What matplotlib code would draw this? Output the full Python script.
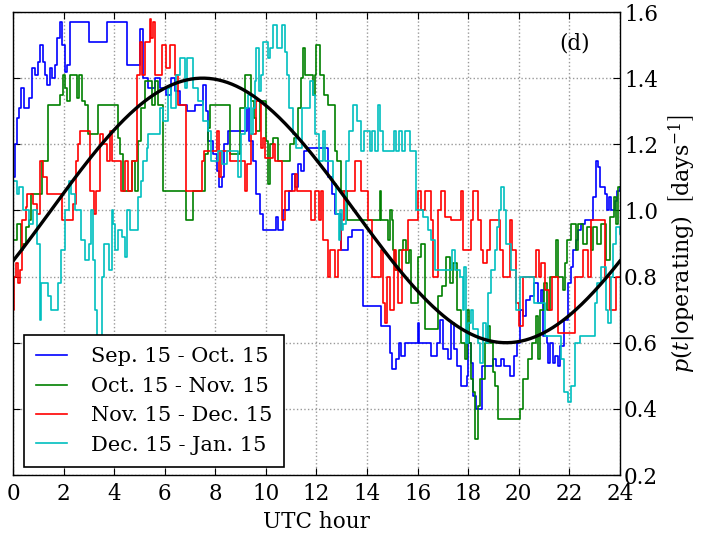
import numpy as np
import matplotlib
matplotlib.use("Agg")
import matplotlib.pyplot as plt

plt.rcParams["font.family"] = ["DejaVu Serif"]
plt.rcParams["mathtext.fontset"] = "dejavuserif"

# Step series: (UTC hour where the step starts, probability density)
sep_hours = [0.00, 0.08, 0.16, 0.25, 0.33, 0.45, 0.62, 0.75, 0.88, 0.98, 1.07, 1.17, 1.27, 1.35, 1.45, 1.55,
             1.65, 1.75, 1.85, 1.95, 2.05, 2.15, 2.27, 3.02, 3.70, 4.49, 5.02, 5.15, 5.35, 5.60, 5.80, 6.05,
             6.25, 6.40, 6.60, 6.90, 7.20, 7.50, 7.62, 7.72, 7.90, 8.05, 8.15, 8.25, 8.35, 8.50, 9.25, 9.35,
             9.50, 9.62, 9.75, 9.88, 10.40, 10.48, 10.68, 10.90, 11.05, 11.15, 11.27, 11.40, 11.50, 11.62,
             12.45, 12.60, 12.73, 12.99, 13.25, 13.40, 13.85, 14.57, 14.90, 15.00, 15.15, 15.25, 15.35,
             15.50, 16.00, 16.06, 16.55, 16.75, 16.90, 17.00, 17.20, 17.33, 17.45, 17.55, 17.72, 17.95,
             18.00, 18.12, 18.20, 18.30, 18.55, 18.66, 19.00, 19.10, 19.30, 19.40, 19.64, 19.80, 19.95,
             20.05, 20.15, 20.30, 20.45, 20.60, 20.75, 20.90, 20.96, 21.10, 21.16, 21.25, 21.35, 21.45,
             21.55, 21.65, 21.80, 21.95, 22.08, 22.15, 22.27, 22.34, 22.45, 22.61, 22.95, 23.06, 23.13,
             23.20, 23.40, 23.50, 23.58, 23.66, 23.80, 23.88, 24.00]
sep_vals = [1.10, 1.20, 1.28, 1.31, 1.37, 1.31, 1.34, 1.43, 1.41, 1.45, 1.50, 1.45, 1.41, 1.38, 1.43, 1.40,
            1.44, 1.52, 1.57, 1.50, 1.42, 1.44, 1.57, 1.51, 1.57, 1.44, 1.55, 1.40, 1.37, 1.40, 1.37, 1.35,
            1.40, 1.36, 1.32, 1.30, 1.32, 1.38, 1.30, 1.21, 1.17, 1.12, 1.07, 1.10, 1.20, 1.24, 1.31, 1.21,
            1.15, 1.05, 0.99, 0.94, 0.98, 0.94, 1.00, 1.06, 1.11, 1.07, 1.14, 1.12, 1.18, 1.19,
            1.10, 1.05, 0.99, 0.88, 0.92, 0.94, 0.71, 0.65, 0.57, 0.52, 0.55, 0.60, 0.56,
            0.60, 0.66, 0.60, 0.56, 0.60, 0.67, 0.58, 0.55, 0.66, 0.58, 0.53, 0.47, 0.50,
            0.60, 0.54, 0.44, 0.40, 0.53, 0.53, 0.55, 0.53, 0.55, 0.53, 0.50, 0.56, 0.60,
            0.70, 0.68, 0.73, 0.74, 0.78, 0.72, 0.76, 0.62, 0.60, 0.54, 0.60, 0.54, 0.56,
            0.53, 0.59, 0.67, 0.78, 0.83, 0.88, 0.91, 0.94, 0.96, 0.97, 1.04, 1.15, 1.13,
            1.07, 1.05, 1.00, 1.04, 1.00, 1.03, 1.06, 1.07]

oct_hours = [0.00, 0.15, 0.30, 0.40, 0.50, 0.62, 0.70, 1.13, 1.40, 1.86, 1.99, 2.07, 2.15, 2.25, 2.55, 2.62,
             2.71, 2.85, 2.98, 3.37, 4.16, 4.24, 4.36, 4.69, 4.82, 4.95, 5.05, 5.22, 5.48, 5.62, 5.75, 5.94,
             6.86, 7.13, 7.59, 7.70, 7.79, 8.58, 8.85, 8.97, 9.17, 9.43, 9.55, 9.63, 9.76, 10.00, 10.09,
             10.16, 10.30, 10.48, 10.95, 11.13, 11.27, 11.40, 11.47, 11.55, 11.74, 11.87, 11.94, 12.00,
             12.13, 12.30, 12.46, 12.73, 12.80, 12.99, 13.19, 14.50, 14.57, 14.83, 14.90, 14.98, 15.04,
             15.12, 15.25, 15.42, 15.55, 15.68, 15.75, 16.02, 16.15, 16.28, 16.81, 16.95, 17.14, 17.27,
             17.40, 17.54, 17.73, 17.88, 17.95, 18.05, 18.12, 18.20, 18.28, 18.40, 18.46, 18.65, 18.79,
             18.85, 18.99, 19.05, 19.18, 20.04, 20.15, 20.37, 20.52, 20.70, 20.78, 20.83, 21.00, 21.10,
             21.22, 21.49, 21.55, 21.75, 21.85, 21.92, 22.05, 22.25, 22.34, 22.55, 22.70, 22.85, 22.95,
             23.10, 23.27, 23.47, 23.60, 23.75, 23.85, 23.93, 24.00]
oct_vals = [0.91, 0.96, 0.88, 0.90, 0.95, 0.97, 1.05, 1.15, 1.32, 1.35, 1.41, 1.37, 1.33, 1.41, 1.34, 1.41,
            1.33, 1.32, 1.23, 1.32, 1.22, 1.17, 1.06, 1.15, 1.06, 1.21, 1.31, 1.39, 1.32, 1.39, 1.32, 1.06,
            0.97, 1.06, 1.17, 1.25, 1.32, 1.17, 1.17, 1.31, 1.41, 1.33, 1.28, 1.24, 1.33, 1.21, 1.08,
            1.20, 1.22, 1.15, 1.20, 1.22, 1.31, 1.40, 1.49, 1.41, 1.41, 1.35, 1.41, 1.50,
            1.41, 1.35, 1.32, 1.18, 1.15, 1.06, 0.97, 1.06, 0.97, 0.91, 1.00, 0.97, 0.88,
            0.82, 0.88, 0.91, 0.84, 0.88, 0.72, 0.86, 0.90, 0.64, 0.74, 0.77, 0.86, 0.78,
            0.84, 0.70, 0.60, 0.55, 0.70, 0.60, 0.49, 0.45, 0.31, 0.41, 0.49, 0.60, 0.65,
            0.60, 0.51, 0.47, 0.37, 0.40, 0.49, 0.55, 0.60, 0.68, 0.55, 0.70, 0.78, 0.70,
            0.80, 0.91, 0.80, 0.76, 0.84, 0.91, 0.96, 0.88, 0.96, 0.90, 0.95, 0.88, 0.95,
            0.90, 0.96, 0.85, 0.98, 1.04, 0.96, 1.07, 1.07]

nov_hours = [0.00, 0.05, 0.12, 0.20, 0.28, 0.34, 0.50, 0.55, 0.80, 0.93, 1.08, 1.20, 1.33, 1.93, 2.39, 2.50,
             2.58, 2.65, 3.04, 3.22, 3.30, 3.44, 3.56, 3.70, 3.84, 3.90, 4.29, 4.43, 4.56, 4.69, 4.89, 5.02,
             5.12, 5.22, 5.40, 5.47, 5.53, 5.61, 5.88, 6.05, 6.20, 6.40, 6.53, 6.86, 7.46, 7.55, 8.05, 8.15,
             8.22, 8.60, 9.17, 9.25, 9.43, 9.63, 9.80, 9.87, 9.95, 10.30, 10.38, 10.62, 10.75, 11.14, 11.22,
             11.80, 11.94, 12.10, 12.20, 12.27, 12.46, 12.55, 12.73, 12.85, 12.99, 13.10, 13.52, 13.78,
             14.05, 14.18, 14.57, 14.62, 14.70, 14.80, 14.90, 15.05, 15.15, 15.23, 15.40, 15.62, 16.02,
             16.15, 16.28, 16.55, 16.61, 16.81, 16.94, 17.10, 17.34, 17.73, 17.80, 18.10, 18.20, 18.39,
             18.52, 18.60, 18.75, 18.85, 19.25, 19.38, 19.64, 19.72, 19.90, 20.00, 20.15, 20.70, 20.80,
             20.90, 21.05, 21.20, 21.32, 21.55, 22.21, 22.54, 22.74, 22.87, 23.40, 23.60, 23.86, 24.00]
nov_vals = [0.70, 0.80, 0.84, 0.78, 0.82, 0.97, 1.01, 1.05, 1.02, 0.99, 1.15, 1.10, 1.05, 0.97, 1.02, 1.15,
            1.20, 1.24, 1.06, 0.99, 1.06, 1.23, 1.20, 1.15, 1.24, 1.15, 1.06, 1.15, 1.06, 1.15, 1.41, 1.51,
            1.41, 1.51, 1.58, 1.52, 1.57, 1.41, 1.50, 1.43, 1.50, 1.41, 1.32, 1.06, 1.15, 1.18, 1.24, 1.10,
            1.18, 1.15, 1.06, 1.14, 1.23, 1.33, 1.19, 1.22, 1.16, 1.20, 1.15, 0.97, 1.06, 1.11, 1.06,
            0.97, 1.06, 0.97, 1.06, 0.91, 0.80, 0.88, 0.80, 0.88, 0.97, 1.06, 1.15, 1.06,
            0.97, 0.80, 0.88, 0.72, 0.66, 0.80, 0.70, 0.88, 0.82, 0.72, 0.88, 0.97, 1.06,
            1.00, 1.06, 0.97, 0.80, 1.00, 1.06, 0.98, 0.97, 1.06, 0.88, 0.97, 1.06, 0.97,
            0.88, 0.84, 0.88, 0.97, 0.88, 0.80, 0.97, 0.88, 0.72, 0.65, 0.80, 0.88, 0.80,
            0.84, 0.76, 0.70, 0.80, 0.63, 0.80, 0.88, 0.80, 0.97, 0.80, 0.70, 0.80, 0.80]

dec_hours = [0.00, 0.15, 0.25, 0.40, 0.62, 0.80, 0.95, 1.05, 1.12, 1.40, 1.52, 1.78, 1.90, 2.05, 2.20, 2.30,
             2.45, 2.70, 2.85, 3.02, 3.10, 3.18, 3.25, 3.32, 3.45, 3.52, 3.60, 3.80, 3.90, 3.95, 4.05, 4.16,
             4.30, 4.42, 4.49, 4.62, 4.95, 5.05, 5.15, 5.28, 5.35, 5.81, 5.95, 6.14, 6.25, 6.45, 6.60, 6.80,
             6.88, 7.05, 7.13, 7.30, 7.52, 7.72, 7.85, 8.11, 8.25, 8.45, 8.90, 9.02, 9.17, 9.30, 9.40, 9.50,
             9.57, 9.63, 9.72, 9.80, 9.90, 10.09, 10.16, 10.29, 10.45, 10.62, 10.75, 10.82, 10.90, 11.08,
             11.20, 11.41, 11.74, 11.85, 11.95, 12.10, 12.27, 12.35, 12.65, 12.78, 12.88, 12.95, 13.00,
             13.06, 13.18, 13.30, 13.45, 13.60, 13.78, 13.90, 14.10, 14.18, 14.30, 14.44, 14.52, 14.64,
             15.05, 15.15, 15.25, 15.40, 15.50, 15.70, 15.95, 16.20, 16.41, 16.55, 16.68, 17.38, 17.47,
             17.67, 17.78, 17.85, 17.93, 18.00, 18.13, 18.20, 18.40, 18.46, 18.60, 18.70, 18.80, 18.92,
             19.05, 19.15, 19.22, 19.30, 19.40, 19.51, 19.70, 19.91, 20.05, 20.60, 21.03, 21.68, 21.80,
             21.95, 22.05, 22.21, 22.41, 23.00, 23.10, 23.27, 23.47, 23.55, 23.65, 23.73, 23.85, 24.00]
dec_vals = [1.09, 1.05, 1.07, 1.00, 0.96, 1.00, 0.90, 0.67, 0.78, 0.74, 0.70, 0.78, 0.88, 1.00, 1.09, 1.05,
            1.00, 0.91, 0.85, 0.90, 1.00, 0.85, 0.70, 0.60, 0.58, 0.80, 0.90, 0.82, 1.00, 0.96, 0.88, 0.94,
            0.92, 0.86, 1.00, 0.94, 1.04, 1.09, 1.15, 1.19, 1.23, 1.31, 1.27, 1.37, 1.31, 1.41, 1.46, 1.37,
            1.46, 1.46, 1.37, 1.33, 1.27, 1.24, 1.15, 1.18, 1.14, 1.18, 1.10, 1.23, 1.31, 1.35, 1.23, 1.31,
            1.39, 1.49, 1.36, 1.41, 1.51, 1.46, 1.49, 1.56, 1.49, 1.56, 1.48, 1.41, 1.31, 1.23,
            1.19, 1.31, 1.39, 1.35, 1.23, 1.15, 1.24, 1.15, 1.08, 0.99, 0.91, 1.00, 0.94,
            0.96, 1.15, 1.24, 1.32, 1.27, 1.18, 1.24, 1.18, 1.24, 1.18, 1.32, 1.24, 1.18,
            1.24, 1.18, 1.24, 1.18, 1.24, 1.18, 1.00, 0.98, 0.94, 0.91, 0.82, 0.88, 0.82,
            0.80, 0.70, 0.83, 0.60, 0.66, 0.70, 0.64, 0.60, 0.54, 0.66, 0.60, 0.75, 0.82,
            0.88, 0.95, 1.00, 1.07, 1.00, 0.90, 0.82, 0.70, 0.80, 0.72, 0.62, 0.55, 0.45,
            0.42, 0.47, 0.60, 0.62, 0.72, 0.78, 0.83, 0.70, 0.66, 0.80, 0.90, 0.95, 0.93]

series_labels = ["Sep. 15 - Oct. 15", "Oct. 15 - Nov. 15", "Nov. 15 - Dec. 15", "Dec. 15 - Jan. 15"]
series_colors = ["#0000ff", "#008000", "#ff0000", "#00bfbf"]

# Sinusoidal fit: mean level, amplitude and hour of the maximum
fit_mean = 1.0
fit_amplitude = 0.4
fit_peak_hour = 7.5

x_ticks = list(range(0, 25, 2))
y_ticks = [0.2, 0.4, 0.6, 0.8, 1.0, 1.2, 1.4, 1.6]

fig = plt.figure(figsize=(7.02, 5.36), dpi=100)
ax = fig.add_axes([0.0185, 0.1138, 0.8645, 0.8638])

series = [(sep_hours, sep_vals), (oct_hours, oct_vals), (nov_hours, nov_vals), (dec_hours, dec_vals)]
for (h, v), lab, col in zip(series, series_labels, series_colors):
    ax.plot(h, v, drawstyle="steps-post", color=col, lw=1.2, label=lab)

t = np.linspace(0, 24, 400)
ax.plot(t, fit_mean + fit_amplitude * np.cos(2 * np.pi * (t - fit_peak_hour) / 24),
        color="black", lw=2.4)

ax.set_xlim(0, 24)
ax.set_ylim(0.2, 1.6)
ax.set_xticks(x_ticks)
ax.set_yticks(y_ticks)
ax.yaxis.tick_right()
ax.yaxis.set_label_position("right")
ax.tick_params(axis="both", which="both", direction="in", top=True, bottom=True,
               left=True, right=True, labelsize=15.5, length=5)
ax.tick_params(axis="y", labelleft=False, labelright=True, pad=3)
ax.tick_params(axis="x", pad=6)
ax.grid(True, linestyle=":", color="#999999", lw=1.0)
for s in ax.spines.values():
    s.set_linewidth(1.0)

ax.set_xlabel("UTC hour", fontsize=15.5, labelpad=4)
ax.set_ylabel(r"$p(t|\mathrm{operating})\;\;\left[\mathrm{days}^{-1}\right]$", fontsize=16, labelpad=6)
ax.text(0.925, 0.932, "(d)", transform=ax.transAxes, fontsize=15.5, ha="center", va="center")

leg = ax.legend(loc="lower left", bbox_to_anchor=(0.018, 0.017), borderaxespad=0,
                fontsize=15, fancybox=False, framealpha=1, edgecolor="black",
                handlelength=1.45, handletextpad=1.15, labelspacing=0.5, borderpad=0.6)
leg.get_frame().set_linewidth(1.2)

fig.savefig("out.png", dpi=100)
